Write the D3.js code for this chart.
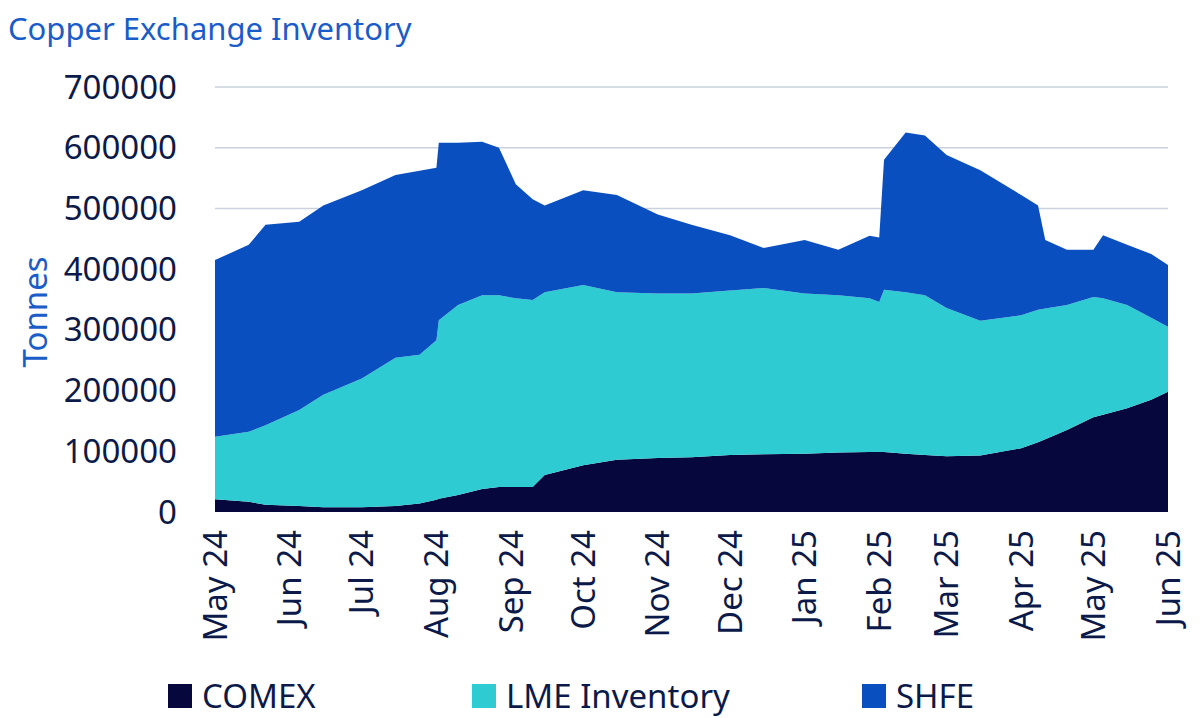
<!DOCTYPE html>
<html>
<head>
<meta charset="utf-8">
<script src="https://cdn.jsdelivr.net/npm/d3@7"></script>
<style>
  body { margin: 0; background: #fff; }
  text { font-family: "Noto Sans", sans-serif; }
</style>
</head>
<body>
<svg id="chart" width="1200" height="718"></svg>
<script>
// fechas de las observaciones
var dates = ["2024-05-01","2024-05-15","2024-05-22","2024-06-05","2024-06-15","2024-07-01","2024-07-15","2024-07-25",
  "2024-08-01","2024-08-02","2024-08-10","2024-08-20","2024-08-27","2024-09-03","2024-09-10","2024-09-15",
  "2024-10-01","2024-10-15","2024-11-01","2024-11-15","2024-12-01","2024-12-15","2025-01-01","2025-01-15",
  "2025-01-28","2025-02-01","2025-02-03","2025-02-12","2025-02-20","2025-03-01","2025-03-15","2025-04-01",
  "2025-04-08","2025-04-11","2025-04-20","2025-05-01","2025-05-05","2025-05-15","2025-05-25","2025-06-01"];
// valores en miles de toneladas
var comex = [21,17,12,10,8,8,10,14,20,22,28,38,41,41,41,61,77,86,89,90,94,95,96,98,99,99,99,96,94,92,93,105,115,120,135,156,160,171,185,198];
var lme = [103,115,131,158,185,212,244,245,263,294,313,319,316,311,308,301,297,276,271,270,271,274,264,259,253,247,267,266,263,244,222,219,218,215,206,198,192,170,135,107];
var shfe = [291,308,330,310,312,310,301,303,284,292,267,253,243,188,166,143,156,160,130,113,91,66,88,75,103,106,214,263,263,252,248,198,172,113,91,78,104,99,105,102];
var seriesNames = ["COMEX", "LME Inventory", "SHFE"];
var colors = ["#06073d", "#2ecbd3", "#0a4fc0"];
var yTicks = [0,100000,200000,300000,400000,500000,600000,700000];
var monthTicks = ["2024-05-01","2024-06-01","2024-07-01","2024-08-01","2024-09-01","2024-10-01","2024-11-01",
  "2024-12-01","2025-01-01","2025-02-01","2025-03-01","2025-04-01","2025-05-01","2025-06-01"];

var margin = { top: 87, left: 215, right: 32, bottom: 206 };
var width = 1200, height = 718;
var svg = d3.select("#chart");
var parse = d3.timeParse("%Y-%m-%d");

var rows = dates.map(function (d, i) {
  return { date: parse(d), comex: comex[i] * 1000, lme: lme[i] * 1000, shfe: shfe[i] * 1000 };
});

var x = d3.scaleTime()
  .domain([parse("2024-05-01"), parse("2025-06-01")])
  .range([margin.left, width - margin.right]);
var y = d3.scaleLinear()
  .domain([0, 700000])
  .range([height - margin.bottom, margin.top]);

// lineas de la cuadricula
svg.append("g").selectAll("line").data(yTicks.slice(1)).join("line")
  .attr("x1", margin.left).attr("x2", width - margin.right)
  .attr("y1", function (d) { return y(d); }).attr("y2", function (d) { return y(d); })
  .attr("stroke", "#c9d2de").attr("stroke-width", 1.5);

var stack = d3.stack().keys(["comex", "lme", "shfe"]);
var layers = stack(rows);
var area = d3.area()
  .x(function (d) { return x(d.data.date); })
  .y0(function (d) { return y(d[0]); })
  .y1(function (d) { return y(d[1]); });

svg.append("g").selectAll("path").data(layers).join("path")
  .attr("d", area)
  .attr("fill", function (d, i) { return colors[i]; });

// eje y
svg.append("g").selectAll("text").data(yTicks).join("text")
  .attr("x", margin.left - 38).attr("y", function (d) { return y(d); })
  .attr("dy", "0.35em").attr("text-anchor", "end")
  .attr("font-size", 33).attr("fill", "#0c1a4a")
  .text(function (d) { return d; });

// eje x
svg.append("g").selectAll("text").data(monthTicks).join("text")
  .attr("transform", function (d) { return "translate(" + x(parse(d)) + "," + (height - margin.bottom + 18) + ") rotate(-90)"; })
  .attr("dy", "0.35em").attr("text-anchor", "end")
  .attr("font-size", 33).attr("fill", "#0c1a4a")
  .text(function (d) { return d3.timeFormat("%b %y")(parse(d)); });

svg.append("text").attr("x", 8).attr("y", 40)
  .attr("font-size", 31).attr("fill", "#1a5cc8")
  .text("Copper Exchange Inventory");

svg.append("text").attr("transform", "translate(47,312) rotate(-90)")
  .attr("text-anchor", "middle").attr("font-size", 33).attr("fill", "#1a5cc8")
  .text("Tonnes");

// leyenda
var legendX = [168, 472, 862];
var legend = svg.append("g").selectAll("g").data(seriesNames).join("g")
  .attr("transform", function (d, i) { return "translate(" + legendX[i] + ",684)"; });
legend.append("rect").attr("width", 24).attr("height", 24)
  .attr("fill", function (d, i) { return colors[i]; });
legend.append("text").attr("x", 34).attr("y", 12).attr("dy", "0.35em")
  .attr("font-size", 33).attr("fill", "#0c1a4a")
  .text(function (d) { return d; });
</script>
</body>
</html>
